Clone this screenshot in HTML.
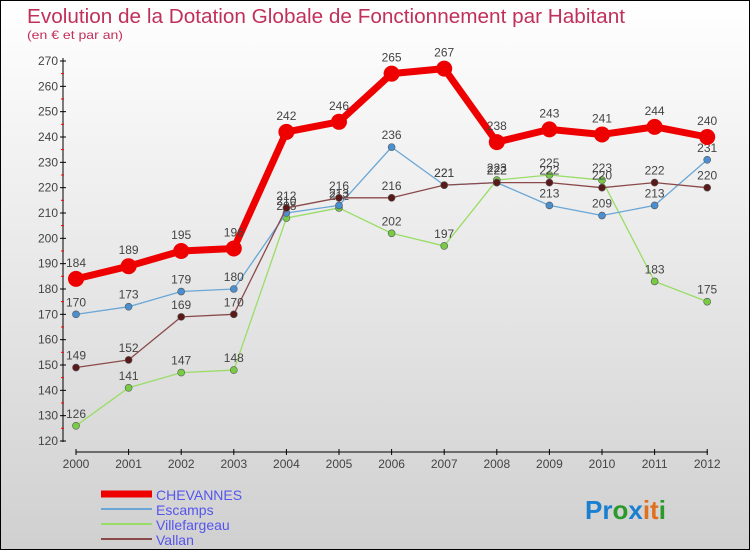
<!DOCTYPE html>
<html><head><meta charset="utf-8"><style>
body{margin:0;width:750px;height:550px;overflow:hidden;font-family:"Liberation Sans",sans-serif}
#wrap{position:relative;width:748px;height:548px;border:1px solid #000;background:linear-gradient(#fff,#d0d0d0)}
svg{position:absolute;left:0;top:0}
</style></head><body>
<div id="wrap">
<svg id="c" width="750" height="550">
<text x="26" y="22" font-size="20" fill="#c0305a" textLength="598" lengthAdjust="spacingAndGlyphs">Evolution de la Dotation Globale de Fonctionnement par Habitant</text>
<text x="26" y="38" font-size="12" fill="#c0305a" textLength="96" lengthAdjust="spacingAndGlyphs">(en € et par an)</text>
<text x="584" y="518" font-size="26" font-weight="bold"><tspan fill="#1a7fd0">Pr</tspan><tspan fill="#2a9a2a">o</tspan><tspan fill="#1a7fd0">x</tspan><tspan fill="#e07020">it</tspan><tspan fill="#2a9a2a">i</tspan></text>
</svg>
</div>
<script>
const years=["2000","2001","2002","2003","2004","2005","2006","2007","2008","2009","2010","2011","2012"];
const yTicks=[120,130,140,150,160,170,180,190,200,210,220,230,240,250,260,270];
const chevannes=[184,189,195,196,242,246,265,267,238,243,241,244,240];
const escamps=[170,173,179,180,210,213,236,221,222,213,209,213,231];
const villefargeau=[126,141,147,148,208,212,202,197,223,225,223,183,175];
const vallan=[149,152,169,170,212,216,216,221,222,222,220,222,220];
const seriesNames=["CHEVANNES","Escamps","Villefargeau","Vallan"];
const svg=document.getElementById('c');const NS='http://www.w3.org/2000/svg';
const xs=i=>75+i*52.6;const ys=v=>440-(v-120)*380/150;
function mk(t,a,p){const e=document.createElementNS(NS,t);for(const k in a)e.setAttribute(k,a[k]);(p||svg).appendChild(e);return e;}
let ax=mk('line',{x1:62,y1:57,x2:62,y2:441,stroke:'#000','stroke-width':1});


ax=mk('line',{x1:75,y1:451,x2:707,y2:451,stroke:'#000','stroke-width':1});


yTicks.forEach(v=>{const y=ys(v);
mk('line',{x1:59,y1:y,x2:65,y2:y,stroke:'#000'});
if(v<270)mk('line',{x1:60,y1:y-12.7,x2:63,y2:y-12.7,stroke:'#f00'});
const t=mk('text',{x:57,y:y+4,'font-size':12,fill:'#444','text-anchor':'end'});t.textContent=v;

});
years.forEach((yr,i)=>{const x=xs(i);mk('line',{x1:x,y1:448,x2:x,y2:454,stroke:'#000'});
const t=mk('text',{x:x,y:467,'font-size':12,fill:'#444','text-anchor':'middle'});t.textContent=yr;

});
const defs=[[villefargeau,'#99dd66','#77cc44',1.3,3.5],[escamps,'#6aa6d6','#4a90d0',1.3,3.5],[vallan,'#8a4a4a','#5a1a1a',1.3,3.5],[chevannes,'#ee0000','#ee0000',7,8]];
const keys=['villefargeau','escamps','vallan','chevannes'];
defs.forEach(([d,c,fc,w,r],k)=>{const g=mk('g',{});


mk('polyline',{points:d.map((v,i)=>xs(i)+','+ys(v)).join(' '),fill:'none',stroke:c,'stroke-width':w,'stroke-linejoin':'round'},g);
d.forEach((v,i)=>{const p=mk('circle',{cx:xs(i),cy:ys(v),r:r,fill:fc,stroke:k==3?'#ee0000':'#555','stroke-width':k==3?0:0.6},g);


const t=mk('text',{x:xs(i),y:ys(v)-(k==3?12:8),'font-size':12,fill:'#444','text-anchor':'middle'},g);t.textContent=v;

});});
const lc=[['#ee0000',7],['#6aa6d6',2],['#99dd66',2],['#8a4a4a',2]];
seriesNames.forEach((n,i)=>{const y=493+i*15;
const g=mk('g',{});


mk('line',{x1:100,y1:y,x2:151,y2:y,stroke:lc[i][0],'stroke-width':lc[i][1]},g);
const t=mk('text',{x:155,y:y+6,'font-size':14,fill:'#5555ee'},g);t.textContent=n;});
</script>
</body></html>
